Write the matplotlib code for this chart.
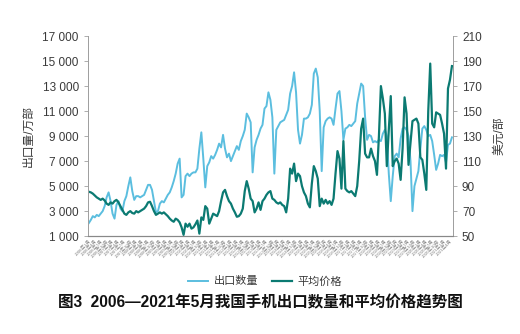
import matplotlib
matplotlib.use("Agg")
import matplotlib.pyplot as plt
from matplotlib.ticker import FuncFormatter
import numpy as np

plt.rcParams['font.family'] = ['Liberation Sans', 'Noto Sans CJK SC', 'DejaVu Sans']

# Monthly series, 2006-01 .. 2021-05
months = [f"{y}年{m}月" for y in range(2006, 2022) for m in range(1, 13)][:185]

export_qty = [  # 出口数量, 万部
    2050, 2300, 2600, 2500, 2700, 2600, 2800, 3000, 3400, 4100, 4500, 3800,
    2800, 2400, 3500, 3800, 3200, 3000, 3800, 4200, 5000, 5700, 4600, 3900,
    4200, 4200, 4100, 4200, 4300, 4700, 5100, 5100, 4700, 3800, 2900, 3000,
    3600, 3800, 3700, 4000, 4300, 4500, 4900, 5400, 6000, 6800, 7200, 4100,
    4300, 5800, 6000, 5800, 6000, 6100, 6100, 6400, 8000, 9300, 7200, 4900,
    6600, 6900, 7400, 7200, 7500, 7900, 8400, 8100, 9100, 8000, 7300, 7600,
    7000, 7400, 7800, 8200, 7900, 8600, 9000, 9500, 10800, 10500, 10100, 6100,
    8100, 8700, 9100, 9600, 9900, 11200, 11400, 12500, 11900, 10500, 6000, 9500,
    9800, 10100, 10200, 10300, 10700, 11100, 12400, 13000, 14100, 12500, 9500, 8400,
    9100, 10400, 10400, 10500, 10800, 11500, 14000, 14400, 13700, 11000, 6200, 9700,
    10200, 10400, 10500, 10400, 9900, 11200, 12400, 12600, 11000, 8700, 9600, 9700,
    9900, 9800, 10000, 10200, 11600, 12400, 13200, 13000, 10500, 8700, 9100, 9000,
    8500, 8600, 8500, 8700, 8600, 9200, 9500, 9000, 6000, 3800, 5800, 7400,
    7600, 7300, 8800, 9600, 9700, 9500, 9000, 7000, 3000, 5000, 5600, 6200,
    8000, 9600, 9800, 9500, 9000, 9100, 8600, 7500, 6300, 6800, 7500, 7400,
    7500, 6900, 8300, 8400, 8900,
]

avg_price = [  # 平均价格, 美元/部
    85.5, 85, 84, 82.5, 81, 80, 79, 80, 78.5, 76, 75, 77,
    76, 78, 79, 77, 74, 71, 68, 67, 69, 70, 68.5, 68,
    70, 69, 70, 71, 72, 74, 77, 77.5, 74, 70, 67, 68,
    69, 68, 69, 67.5, 66, 64, 62.5, 61.5, 64, 63, 61, 57,
    51, 60, 57.5, 60, 56, 57, 59.5, 62.5, 52, 65, 63, 74,
    72, 60, 64, 68, 67, 66, 70, 78, 85, 87, 82, 78,
    76, 72, 69, 65.5, 66, 68, 72, 86, 94, 88, 80, 78,
    69, 72, 77, 71, 78, 80, 83, 85, 86, 80, 79, 77,
    76, 77, 75, 74, 69, 80, 104, 100, 108, 94, 100, 98,
    90, 85, 82, 76, 73, 92, 106, 102, 96, 74, 80, 76,
    79, 76, 78, 75, 80, 100, 118, 112, 88, 126, 88, 86,
    85, 86, 84, 82, 90, 110, 136, 144, 116, 113, 113, 120,
    114, 110, 99, 130, 170, 160, 148, 106, 135, 162, 106, 110,
    112, 108, 95, 120, 161, 148, 107, 125, 142, 143, 144, 140,
    113, 111, 100, 87, 150, 188, 140, 137, 149, 148, 147, 140,
    132, 104, 168, 175, 186,
]

qty_ticks = list(range(1000, 17001, 2000))
price_ticks = list(range(50, 211, 20))

blue = '#5BBEDF'
teal = '#0B7A72'
axis_grey = '#A0A0A0'
text_col = '#3A3A3A'

fig = plt.figure(figsize=(5.2, 3.34), dpi=100)
ax = fig.add_axes([0.169, 0.293, 0.702, 0.599])
ax2 = ax.twinx()

x = np.arange(len(months))
l1, = ax.plot(x, export_qty, color=blue, lw=1.4, label='出口数量')
l2, = ax2.plot(x, avg_price, color=teal, lw=1.6, label='平均价格')

ax.set_xlim(-0.5, len(months) - 0.5)
ax.set_ylim(qty_ticks[0], qty_ticks[-1])
ax2.set_ylim(price_ticks[0], price_ticks[-1])
ax.set_yticks(qty_ticks)
ax2.set_yticks(price_ticks)
ax.yaxis.set_major_formatter(FuncFormatter(lambda v, p: f"{int(v):,}".replace(',', ' ')))

step = 3
ax.set_xticks(x[::step])
ax.set_xticklabels(months[::step], rotation=45, ha='right', rotation_mode='anchor',
                   fontsize=3.2, color='#808080')
ax.tick_params(axis='x', length=0, pad=2)

for a in (ax, ax2):
    a.spines['top'].set_visible(False)
    a.spines['left'].set_color(axis_grey)
    a.spines['right'].set_color(axis_grey)
    a.spines['left'].set_linewidth(0.7)
    a.spines['right'].set_linewidth(0.7)
    a.spines['bottom'].set_color('#888888')
    a.spines['bottom'].set_linestyle((0, (1, 1)))
    a.spines['bottom'].set_linewidth(0.8)

ax.tick_params(axis='y', labelsize=8.5, colors=axis_grey, labelcolor=text_col, length=3, width=0.6)
ax2.tick_params(axis='y', labelsize=8.5, colors=axis_grey, labelcolor=text_col, length=3, width=0.6)

ax.set_ylabel('出口量/万部', fontsize=8.5, color=text_col, labelpad=6)
ax2.set_ylabel('美元/部', fontsize=8.5, color=text_col, labelpad=8)

fig.legend(handles=[l1, l2], loc='center', bbox_to_anchor=(0.51, 0.158), ncol=2,
           frameon=False, fontsize=8, handlelength=1.8, columnspacing=1.2,
           handletextpad=0.5, labelcolor=text_col)

fig.text(0.5, 0.093, '图3  2006—2021年5月我国手机出口数量和平均价格趋势图',
         ha='center', va='center', fontsize=11.2, fontweight='bold', color='#111111')

fig.savefig('out.png', dpi=100)
